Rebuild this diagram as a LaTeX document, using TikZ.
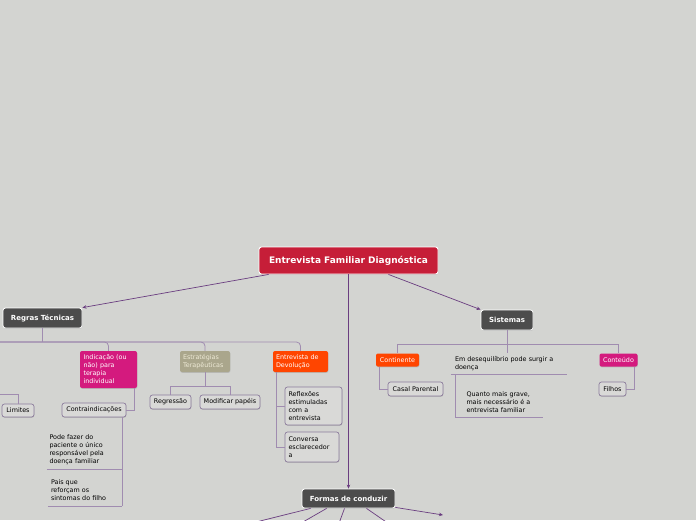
\documentclass[tikz,border=0pt]{standalone}
\usepackage{fontspec}
\setmainfont{DejaVu Sans}
\usetikzlibrary{arrows.meta,shadows}
\definecolor{bggray}{RGB}{211,212,209}
\definecolor{rootred}{RGB}{198,30,56}
\definecolor{darktopic}{RGB}{76,76,76}
\definecolor{magentatopic}{RGB}{212,26,126}
\definecolor{orangetopic}{RGB}{255,69,0}
\definecolor{khakitopic}{RGB}{170,166,140}
\definecolor{khakitext}{RGB}{238,234,214}
\definecolor{linkpurple}{RGB}{106,61,128}
\definecolor{treeline}{RGB}{160,140,176}
\definecolor{leaffill}{RGB}{217,217,215}
\definecolor{leafline}{RGB}{140,124,156}
\begin{document}
\begin{tikzpicture}[x=1pt, y=-1pt,
  topic/.style={rounded corners=2.5pt, inner sep=0pt, text=white, align=center,
    font=\bfseries\fontsize{7}{8}\selectfont,
    drop shadow={shadow xshift=0.4pt, shadow yshift=-0.8pt, opacity=0.3}},
  colortopic/.style={rounded corners=2pt, inner sep=0pt, text=white, align=left,
    font=\fontsize{6.4}{8}\selectfont,
    drop shadow={shadow xshift=0.4pt, shadow yshift=-0.8pt, opacity=0.3}},
  leaf/.style={draw=leafline, fill=leaffill, line width=0.7pt, rounded corners=2.5pt,
    inner sep=0pt, align=left, font=\fontsize{6.4}{8}\selectfont,
    drop shadow={shadow xshift=0.4pt, shadow yshift=-0.8pt, opacity=0.3}},
  note/.style={inner sep=0pt, align=left, font=\fontsize{6.4}{8}\selectfont},
  link/.style={draw=linkpurple, line width=0.7pt, -{Stealth[length=4pt,width=3.5pt]}},
  spoke/.style={draw=linkpurple, line width=0.7pt},
  branch/.style={draw=treeline, line width=0.8pt, rounded corners=4pt},
  sharpbranch/.style={draw=treeline, line width=0.8pt},
]
\fill[bggray] (0,0) rectangle (696,520);
\useasboundingbox (0,0) rectangle (696,520);

% main topics
\node[topic, fill=rootred, draw=white, line width=0.9pt, minimum width=179pt, minimum height=27pt,
  font=\bfseries\fontsize{9}{10}\selectfont] (root) at (348.5,260.5) {Entrevista Familiar Diagnóstica};
\node[topic, fill=darktopic, draw=white, line width=0.8pt, minimum width=79pt, minimum height=20pt] (regras) at (42.5,318) {Regras Técnicas};
\node[topic, fill=darktopic, draw=white, line width=0.8pt, minimum width=52pt, minimum height=20pt] (sist) at (507,320) {Sistemas};
\node[topic, fill=darktopic, draw=white, line width=0.8pt, minimum width=93pt, minimum height=19pt] (formas) at (348.5,498.5) {Formas de conduzir};

% regras tecnicas
\node[colortopic, fill=magentatopic, text width=50pt, minimum width=57pt, minimum height=37pt] (ind) at (108.5,369.5)
  {Indicação~(ou\\não) para\\terapia\\individual};
\node[colortopic, fill=khakitopic, text=khakitext, text width=44pt, minimum width=50pt, minimum height=21pt] (estr) at (205,361.5)
  {Estratégias\\Terapêuticas};
\node[colortopic, fill=orangetopic, text width=49pt, minimum width=55pt, minimum height=21pt] (devol) at (300.5,361.5)
  {Entrevista~de\\Devolução};
\node[leaf, minimum width=64pt, minimum height=14pt, align=center] (contra) at (94,410) {Contraindicações};
\node[leaf, minimum width=32pt, minimum height=13pt, align=center] (lim) at (18,410.5) {Limites};
\node[note, text width=70pt, minimum width=75pt, minimum height=38pt] (pode) at (84.5,450)
  {Pode fazer do\\paciente o único\\responsável~pela\\doença familiar};
\node[note, text width=68pt, minimum width=74pt, minimum height=32pt] (pais) at (85,490)
  {Pais que\\reforçam os\\sintomas~do~filho};
\node[leaf, minimum width=41pt, minimum height=14pt, align=center] (regr) at (170.5,402) {Regressão};
\node[leaf, minimum width=60pt, minimum height=14pt, align=center] (modif) at (230,402) {Modificar papéis};
\node[leaf, text width=50pt, minimum width=57pt, minimum height=38pt] (refl) at (313.5,406)
  {Reflexões\\estimuladas\\com a\\entrevista};
\node[leaf, text width=47pt, minimum width=54pt, minimum height=30pt] (conv) at (312,447)
  {Conversa\\esclarecedor\\a};

% sistemas
\node[colortopic, fill=orangetopic, minimum width=43pt, minimum height=13pt, align=center] (cont) at (397.5,360) {Continente};
\node[leaf, minimum width=55pt, minimum height=14pt, align=center] (casal) at (415.5,389) {Casal Parental};
\node[note, text width=108pt, minimum width=116pt, minimum height=21pt] (desq) at (509,363.5)
  {Em~desequilíbrio~pode~surgir~a\\doença};
\node[note, text width=66pt, minimum width=87pt, minimum height=30pt] (quanto) at (499.5,402)
  {Quanto~mais~grave,\\mais~necessário~é~a\\entrevista~familiar};
\node[colortopic, fill=magentatopic, minimum width=38pt, minimum height=13pt, align=center] (conteudo) at (618.5,360) {Conteúdo};
\node[leaf, minimum width=27pt, minimum height=14pt, align=center] (filhos) at (612.5,389) {Filhos};

% free ends
\coordinate (rbar) at (0,342);
\coordinate (lbar) at (0,394);
\coordinate (ejoin) at (205,386);
\coordinate (sbar) at (507,344);
\coordinate (fright) at (443,515);
\coordinate (fa) at (240,526);
\coordinate (fb) at (296,526);
\coordinate (fc) at (338,526);
\coordinate (fd) at (392,526);

% arrows from the root
\draw[link] ([xshift=10pt]root.south west) -- (regras.north east);
\draw[link] ([xshift=40pt]root.south) -- (sist.north west);
\draw[link] (root.south) -- (formas.north);
\draw[link] ([yshift=1pt]formas.south east) -- (fright);
\draw[spoke] ([xshift=9pt]formas.south west) -- (fa);
\draw[spoke] ([xshift=25pt]formas.south west) -- (fb);
\draw[spoke] ([xshift=-4pt]formas.south) -- (fc);
\draw[spoke] ([xshift=18pt]formas.south) -- (fd);

% regras tecnicas tree
\draw[sharpbranch] (regras.south) -- (regras.south |- rbar);
\draw[branch] (rbar) -| (ind.north);
\draw[branch] (rbar) -| (estr.north);
\draw[branch] (rbar) -| (devol.north);
\draw[sharpbranch] (lbar) -| (lim.north);
\draw[sharpbranch] ([xshift=-3pt]ind.south east) |- (contra.east);
\draw[sharpbranch] (pode.east |- contra.south) -- (pais.south east);
\draw[sharpbranch] (pode.south west) -- (pode.south east);
\draw[sharpbranch] (pais.south west) -- (pais.south east);
\draw[sharpbranch] (estr.south) -- (ejoin);
\draw[sharpbranch] (ejoin) -| (regr.north);
\draw[sharpbranch] (ejoin) -| (modif.north);
\draw[sharpbranch] ([xshift=4pt]devol.south west) |- (refl.west);
\draw[sharpbranch] ([xshift=4pt]devol.south west) |- (conv.west);

% sistemas tree
\draw[sharpbranch] (sist.south) -- (sbar);
\draw[sharpbranch] (sbar) -| (cont.north);
\draw[sharpbranch] (sbar) -| (conteudo.north);
\draw[sharpbranch] (sbar) -- (sbar |- desq.north);
\draw[sharpbranch] ([xshift=4pt]cont.south west) |- (casal.west);
\draw[sharpbranch] ([xshift=-3pt]conteudo.south east) |- (filhos.east);
\draw[sharpbranch] (desq.south west) -- (desq.south east);
\draw[sharpbranch] (quanto.north west |- desq.south) -- (quanto.south west) -- (quanto.south east);
\end{tikzpicture}
\end{document}
